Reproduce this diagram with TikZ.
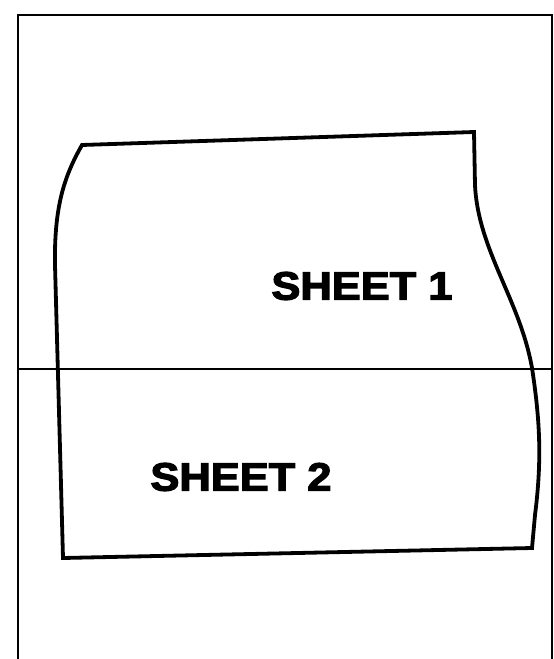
\documentclass[tikz,border=0pt]{standalone}
\usepackage{fontspec}
\setmainfont{Liberation Sans}
\newfontfamily\heavyfont{Liberation Sans Bold}[FakeBold=3]
\tikzset{
  frame/.style={line width=2pt},
  sheetline/.style={line width=3.8pt, line join=miter},
  label/.style={font=\fontsize{39.5}{39.5}\selectfont\heavyfont, inner sep=0pt, xscale=1.1}
}
\begin{document}
\begin{tikzpicture}[x=1pt,y=-1pt]
\useasboundingbox (0,0) rectangle (554,659);
\fill[white] (0,0) rectangle (554,659);
% outer frame
\draw[frame] (18,700) -- (18,15) -- (552,15) -- (552,700);
% horizontal divider
\coordinate (hl) at (18,369);
\coordinate (hr) at (552,369);
\draw[frame] (hl) -- (hr);
% sheet outline
\draw[sheetline] (82,145) -- (474,132) -- (475,185)
  .. controls (478,250) and (520,300) .. (532,368)
  .. controls (540,420) and (542,460) .. (535,515)
  -- (532,548) -- (63,558) -- (55,265)
  .. controls (54,205) and (65,175) .. cycle;
% labels
\node[label] (s1) at (362,286) {SHEET 1};
\node[label] (s2) at (241,477) {SHEET 2};
\end{tikzpicture}
\end{document}
